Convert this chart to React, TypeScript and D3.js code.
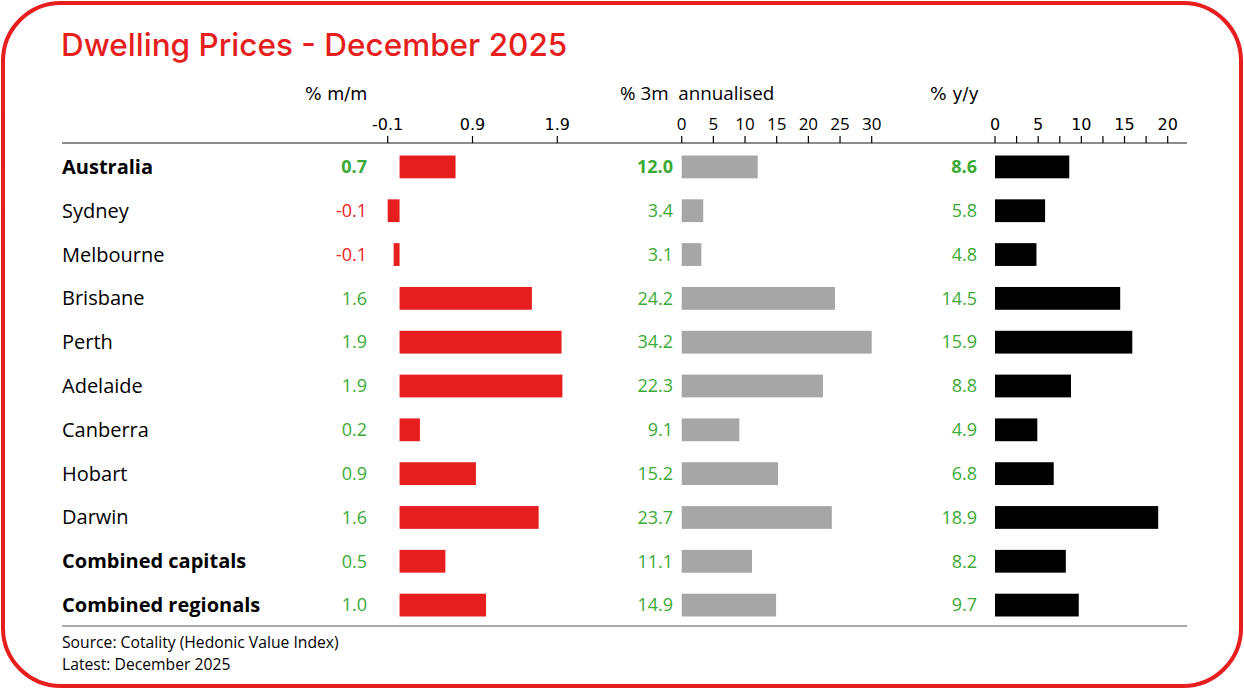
import React from "react";
import * as d3 from "d3";

const categories = [
  "Australia", "Sydney", "Melbourne", "Brisbane", "Perth", "Adelaide",
  "Canberra", "Hobart", "Darwin", "Combined capitals", "Combined regionals",
];
const boldRows = ["Australia", "Combined capitals", "Combined regionals"];
const monthly = [0.66, -0.14, -0.07, 1.56, 1.91, 1.92, 0.24, 0.9, 1.64, 0.54, 1.02];
const threeMonth = [12.0, 3.4, 3.1, 24.2, 34.2, 22.3, 9.1, 15.2, 23.7, 11.1, 14.9];
const yearly = [8.6, 5.8, 4.8, 14.5, 15.9, 8.8, 4.9, 6.8, 18.9, 8.2, 9.7];
const monthlyTicks = [-0.14, 0.86, 1.86];
const threeMonthTicks = [0, 5, 10, 15, 20, 25, 30];
const yearlyTicks = [0, 5, 10, 15, 20];
const yearlyMinorTicks = [2.5, 7.5, 12.5, 17.5];

const W = 1244;
const H = 689;
const RED = "#e61e1e";
const GREEN = "#3aaa35";
const NEG = "#ee2222";
const AXIS = "#8c8c8c";
const LABEL_FONT = "'Open Sans', 'Noto Sans', sans-serif";
const TICK_FONT = "'DejaVu Sans', sans-serif";

const locale = d3.formatLocale({ decimal: ".", thousands: ",", grouping: [3], currency: ["", ""], minus: "-" });
const fmt = locale.format(".1f");

export default function App() {
  const y = d3.scaleBand<string>().domain(categories).range([145, 627]).paddingInner(0.48).paddingOuter(0.24);
  const xm = d3.scaleLinear().domain([-0.14, 1.86]).range([387.7, 557.3]);
  const x3 = d3.scaleLinear().domain([0, 30]).range([681.7, 871.7]).clamp(true);
  const xy = d3.scaleLinear().domain([0, 20]).range([995, 1167.7]);
  const axisY = 143;
  const bh = y.bandwidth();

  const valueLabel = (v: number, x: number, cy: number, bold: boolean, key: string) => (
    <text key={key} x={x} y={cy} dy="0.35em" textAnchor="end" fontFamily={LABEL_FONT}
      fontSize={18} fontWeight={bold ? 700 : 400} fill={v < 0 ? NEG : GREEN}>
      {fmt(v)}
    </text>
  );

  return (
    <svg width={W} height={H} style={{ position: "absolute", left: 0, top: 0, background: "#fff" }}>
      <rect x={3} y={3} width={W - 6} height={H - 6} rx={58} ry={58} fill="#fff" stroke={RED} strokeWidth={4} />
      <text x={61} y={56} fontFamily="Inter, sans-serif" fontWeight={500} fontSize={31.5} fill={RED}>
        Dwelling Prices - December 2025
      </text>

      {/* headers */}
      <text x={305} y={100} fontFamily={TICK_FONT} fontSize={17.5} fill="#000">% m/m</text>
      <text x={620} y={100} fontFamily={LABEL_FONT} fontSize={18.8} fill="#000" style={{ whiteSpace: "pre" }}>% 3m  annualised</text>
      <text x={930} y={100} fontFamily={TICK_FONT} fontSize={17.5} fill="#000">% y/y</text>

      {/* axis line */}
      <line x1={62} x2={1187} y1={axisY} y2={axisY} stroke={AXIS} strokeWidth={2} />
      {monthlyTicks.map((t) => (
        <g key={"mt" + t}>
          <line x1={xm(t)} x2={xm(t)} y1={axisY - 7} y2={axisY} stroke="#000" strokeWidth={1.2} />
          <text x={xm(t)} y={130} textAnchor="middle" fontFamily={TICK_FONT} fontSize={16}>{fmt(t)}</text>
        </g>
      ))}
      {threeMonthTicks.map((t) => (
        <g key={"3t" + t}>
          <line x1={x3(t)} x2={x3(t)} y1={axisY - 7} y2={axisY} stroke="#000" strokeWidth={1.2} />
          <text x={x3(t)} y={130} textAnchor="middle" fontFamily={LABEL_FONT} fontSize={17}>{t}</text>
        </g>
      ))}
      {yearlyTicks.map((t) => (
        <g key={"yt" + t}>
          <line x1={xy(t)} x2={xy(t)} y1={axisY - 7} y2={axisY} stroke="#000" strokeWidth={1.2} />
          <text x={xy(t)} y={130} textAnchor="middle" fontFamily={TICK_FONT} fontSize={16}>{t}</text>
        </g>
      ))}
      {yearlyMinorTicks.map((t) => (
        <line key={"ym" + t} x1={xy(t)} x2={xy(t)} y1={axisY - 7} y2={axisY} stroke="#000" strokeWidth={1.2} />
      ))}

      {categories.map((c, i) => {
        const top = y(c)!;
        const cy = top + bh / 2;
        const bold = boldRows.includes(c);
        const isAus = c === "Australia";
        const m = monthly[i];
        return (
          <g key={c}>
            <text x={62} y={cy} dy="0.35em" fontFamily={LABEL_FONT} fontSize={20}
              fontWeight={bold ? 700 : 400} fill="#000">{c}</text>
            {valueLabel(m, 367, cy, isAus, "m" + c)}
            <rect x={Math.min(xm(0), xm(m))} y={top} width={Math.abs(xm(m) - xm(0))} height={bh} fill={RED} />
            {valueLabel(threeMonth[i], 673, cy, isAus, "3" + c)}
            <rect x={x3(0)} y={top} width={x3(threeMonth[i]) - x3(0)} height={bh} fill="#a6a6a6" />
            {valueLabel(yearly[i], 977, cy, isAus, "y" + c)}
            <rect x={xy(0)} y={top} width={xy(yearly[i]) - xy(0)} height={bh} fill="#000" />
          </g>
        );
      })}

      <line x1={62} x2={1187} y1={626} y2={626} stroke={AXIS} strokeWidth={1.5} />
      <text x={62} y={648} fontFamily={LABEL_FONT} fontSize={15.7} fill="#000">Source: Cotality (Hedonic Value Index)</text>
      <text x={62} y={670} fontFamily={LABEL_FONT} fontSize={15.7} fill="#000">Latest: December 2025</text>
    </svg>
  );
}
